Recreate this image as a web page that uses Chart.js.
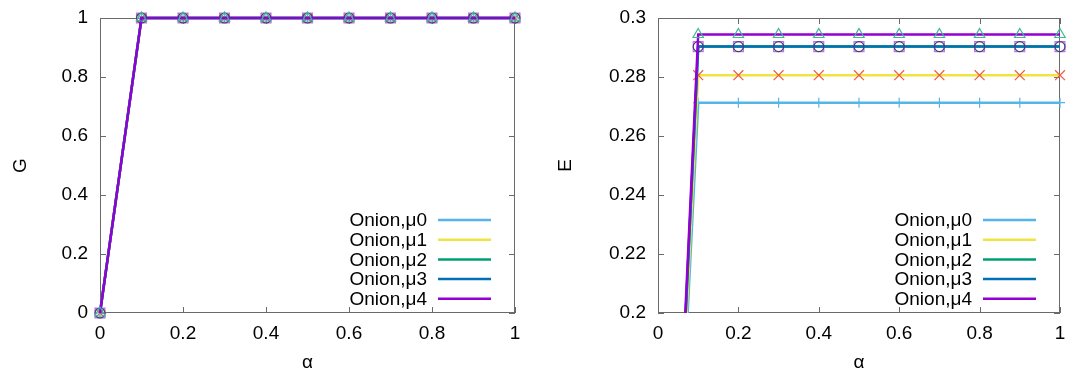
<!DOCTYPE html>
<html>
<head>
<meta charset="utf-8">
<script src="https://cdn.jsdelivr.net/npm/chart.js@4"></script>
<style>
  body { margin: 0; background: #fff; }
  .box { position: absolute; top: 0; height: 375px; }
</style>
</head>
<body>
<div class="box" style="left:0;width:540px"><canvas id="left" width="540" height="375"></canvas></div>
<div class="box" style="left:540px;width:532px"><canvas id="right" width="532" height="375"></canvas></div>
<script>
// alpha values on the x axis
const alpha = [0, 0.1, 0.2, 0.3, 0.4, 0.5, 0.6, 0.7, 0.8, 0.9, 1];
const seriesLabels = ['Onion,\u03bc0', 'Onion,\u03bc1', 'Onion,\u03bc2', 'Onion,\u03bc3', 'Onion,\u03bc4'];

// G (left panel)
const gMu0 = [0, 1, 1, 1, 1, 1, 1, 1, 1, 1, 1];
const gMu1 = [0, 1, 1, 1, 1, 1, 1, 1, 1, 1, 1];
const gMu2 = [0, 1, 1, 1, 1, 1, 1, 1, 1, 1, 1];
const gMu3 = [0, 1, 1, 1, 1, 1, 1, 1, 1, 1, 1];
const gMu4 = [0, 1, 1, 1, 1, 1, 1, 1, 1, 1, 1];

// E (right panel)
const eMu0 = [0, 0.2713, 0.2713, 0.2713, 0.2713, 0.2713, 0.2713, 0.2713, 0.2713, 0.2713, 0.2713];
const eMu1 = [0, 0.2806, 0.2806, 0.2806, 0.2806, 0.2806, 0.2806, 0.2806, 0.2806, 0.2806, 0.2806];
const eMu2 = [0, 0.2903, 0.2903, 0.2903, 0.2903, 0.2903, 0.2903, 0.2903, 0.2903, 0.2903, 0.2903];
const eMu3 = [0, 0.2903, 0.2903, 0.2903, 0.2903, 0.2903, 0.2903, 0.2903, 0.2903, 0.2903, 0.2903];
const eMu4 = [0, 0.2944, 0.2944, 0.2944, 0.2944, 0.2944, 0.2944, 0.2944, 0.2944, 0.2944, 0.2944];

const lineColors = ['#56b4e9', '#f0e442', '#009e73', '#0072b2', '#9400d3'];
const markerColors = ['#56b4e9', '#ef5a45', '#b57ae6', '#4a3a78', '#3fb898'];
const markerStyles = ['cross', 'crossRot', 'rect', 'circle', 'triangle'];
const markerRadius = [5, 7, 7, 5, 6];

const FONT = '"Liberation Sans", Arial, sans-serif';
Chart.defaults.font.family = FONT;
Chart.defaults.font.size = 19;
Chart.defaults.color = '#000';

const fmt = v => String(Number(v.toFixed(2)));

// gnuplot-like frame with inward ticks on all four sides
const framePlugin = {
    id: 'frame',
    beforeDatasetsDraw(chart) {
        const {ctx, chartArea: a, scales} = chart;
        ctx.save();
        ctx.strokeStyle = '#6a6a6a';
        ctx.lineWidth = 1;
        ctx.strokeRect(a.left + 0.5, a.top + 0.5, a.right - a.left - 1, a.bottom - a.top - 1);
        ctx.beginPath();
        const len = 6;
        scales.x.ticks.forEach(t => {
            const px = Math.round(scales.x.getPixelForValue(t.value)) + 0.5;
            ctx.moveTo(px, a.bottom); ctx.lineTo(px, a.bottom - len);
            ctx.moveTo(px, a.top); ctx.lineTo(px, a.top + len);
        });
        scales.y.ticks.forEach(t => {
            const py = Math.round(scales.y.getPixelForValue(t.value)) + 0.5;
            ctx.moveTo(a.left, py); ctx.lineTo(a.left + len, py);
            ctx.moveTo(a.right, py); ctx.lineTo(a.right - len, py);
        });
        ctx.stroke();
        ctx.restore();
    }
};

// key in the lower right corner: text, then line sample
const keyPlugin = {
    id: 'key',
    afterDraw(chart) {
        const {ctx, chartArea: a} = chart;
        ctx.save();
        ctx.font = '19px ' + FONT;
        ctx.textAlign = 'right';
        ctx.textBaseline = 'middle';
        chart.data.datasets.forEach((ds, i) => {
            const y = a.bottom - 93 + i * 19.7;
            ctx.fillStyle = '#000';
            ctx.fillText(ds.label, a.right - 88, y + 1);
            ctx.strokeStyle = ds.borderColor;
            ctx.lineWidth = 2.5;
            ctx.beginPath();
            ctx.moveTo(a.right - 77, y);
            ctx.lineTo(a.right - 24, y);
            ctx.stroke();
        });
        ctx.restore();
    }
};

// keep the plot box where the layout padding puts it
function noLabelPadding(s) {
    s.paddingTop = 0;
    s.paddingBottom = 0;
    s.paddingLeft = 0;
    s.paddingRight = 0;
}

function makeDatasets(values, clip) {
    return values.map((vals, i) => ({
        label: seriesLabels[i],
        data: alpha.map((x, j) => ({x: x, y: vals[j]})),
        borderColor: lineColors[i],
        borderWidth: 2.5,
        pointStyle: markerStyles[i],
        pointRadius: markerRadius[i],
        pointBorderColor: markerColors[i],
        pointBackgroundColor: 'rgba(0,0,0,0)',
        pointBorderWidth: 1.2,
        order: 4 - i,
        clip: clip
    }));
}

function makeChart(id, values, yName, yMin, yMax, yStep, yWidth, padRight, titlePad, clip) {
    return new Chart(document.getElementById(id), {
        type: 'line',
        data: {datasets: makeDatasets(values, clip)},
        options: {
            responsive: false,
            animation: false,
            devicePixelRatio: 1,
            layout: {padding: {top: 18, right: padRight, left: 0, bottom: 0}},
            plugins: {legend: {display: false}, tooltip: {enabled: false}},
            scales: {
                x: {
                    type: 'linear', min: 0, max: 1,
                    grid: {display: false, drawTicks: false},
                    border: {display: false},
                    ticks: {stepSize: 0.2, padding: 9, maxRotation: 0, callback: fmt},
                    title: {display: true, text: '\u03b1', padding: {top: 0, bottom: 1}},
                    afterFit(s) { s.height = 62; noLabelPadding(s); }
                },
                y: {
                    min: yMin, max: yMax,
                    grid: {display: false, drawTicks: false},
                    border: {display: false},
                    ticks: {stepSize: yStep, padding: 12, callback: fmt},
                    title: {display: true, text: yName, padding: {top: titlePad, bottom: 0}},
                    afterFit(s) { s.width = yWidth; noLabelPadding(s); }
                }
            }
        },
        plugins: [framePlugin, keyPlugin]
    });
}

makeChart('left', [gMu0, gMu1, gMu2, gMu3, gMu4], 'G', 0, 1, 0.2, 100, 25, 9.6,
    {left: 10, right: 10, top: 10, bottom: 10});
makeChart('right', [eMu0, eMu1, eMu2, eMu3, eMu4], 'E', 0.2, 0.3, 0.02, 118, 12, 14.6,
    {left: 10, right: 10, top: 10, bottom: 0});
</script>
</body>
</html>
